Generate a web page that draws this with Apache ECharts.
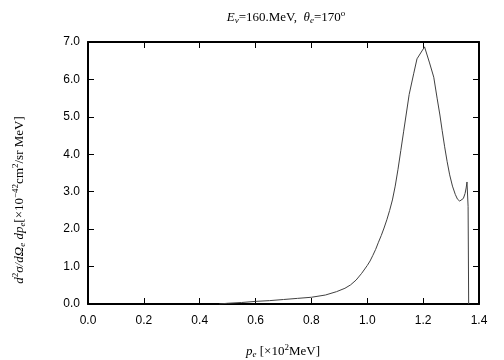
<!DOCTYPE html>
<html><head><meta charset="utf-8">
<script src="https://cdn.jsdelivr.net/npm/echarts@6/dist/echarts.min.js"></script>
<style>html,body{margin:0;padding:0;background:#fff}#c{width:504px;height:360px}</style>
</head><body><div id="c"></div>
<script>
const pe = [0.47,0.50,0.55,0.60,0.65,0.70,0.75,0.80,0.85,0.89,0.92,0.94,0.96,0.98,1.00,1.01,1.02,1.03,1.04,1.05,1.06,1.07,1.08,1.09,1.10,1.11,1.12,1.13,1.15,1.166,1.178,1.205,1.223,1.238,1.25,1.26,1.268,1.277,1.286,1.295,1.305,1.315,1.323,1.331,1.338,1.344,1.35,1.354,1.357,1.361,1.363];
const xsec = [0.0,0.02,0.04,0.07,0.09,0.12,0.15,0.18,0.24,0.33,0.42,0.51,0.64,0.82,1.03,1.15,1.30,1.46,1.65,1.83,2.03,2.25,2.5,2.78,3.15,3.6,4.1,4.6,5.6,6.15,6.55,6.87,6.44,6.06,5.5,5.05,4.64,4.2,3.8,3.45,3.15,2.93,2.8,2.75,2.76,2.82,2.95,3.1,3.26,2.6,0.0];
const xTicks = ['0.0','0.2','0.4','0.6','0.8','1.0','1.2','1.4'];
const yTicks = ['0.0','1.0','2.0','3.0','4.0','5.0','6.0','7.0'];

const chart = echarts.init(document.getElementById('c'));
const axLine = {show:true, onZero:false, lineStyle:{color:'#000', width:2}};
const tick = {show:true, inside:true, length:6, lineStyle:{color:'#000', width:1}};
const lblFont = {fontFamily:'Liberation Sans', fontSize:12, color:'#000'};
const serif = 'Liberation Serif';
const rich = {
  i:{fontFamily:serif, fontStyle:'italic', fontSize:13, fill:'#000'},
  n:{fontFamily:serif, fontSize:13, fill:'#000'},
  s:{fontFamily:serif, fontStyle:'italic', fontSize:9, fill:'#000', padding:[6,0,0,0]},
  p:{fontFamily:serif, fontSize:9, fill:'#000', padding:[0,0,8,0]}
};
chart.setOption({
  animation:false,
  grid:{left:88, right:25, top:42, bottom:56},
  xAxis:[
    {type:'value', min:0, max:1.4, interval:0.2, axisLine:axLine, axisTick:tick, splitLine:{show:false},
     axisLabel:Object.assign({margin:11, formatter:(v)=>xTicks[Math.round(v/0.2)]}, lblFont)},
    {type:'value', position:'top', min:0, max:1.4, interval:0.2, axisLine:axLine, axisTick:tick, splitLine:{show:false}, axisLabel:{show:false}}
  ],
  yAxis:[
    {type:'value', min:0, max:7, interval:1, axisLine:axLine, axisTick:tick, splitLine:{show:false},
     axisLabel:Object.assign({margin:8, formatter:(v)=>yTicks[Math.round(v)]}, lblFont)},
    {type:'value', position:'right', min:0, max:7, interval:1, axisLine:axLine, axisTick:tick, splitLine:{show:false}, axisLabel:{show:false}}
  ],
  series:[{type:'line', data:pe.map((x,i)=>[x,xsec[i]]), showSymbol:false, symbol:'none', smooth:false,
    lineStyle:{color:'#404040', width:1}}],
  graphic:[
    {type:'text', x:286, y:18, style:{
      text:'{i|E}{s|ν}{n|=160.MeV,  }{i|θ}{s|e}{n|=170}{p|o}',
      align:'center', verticalAlign:'middle', rich:rich}},
    {type:'text', x:283, y:352, style:{
      text:'{i|p}{s|e}{n| [×10}{p|2}{n|MeV]}',
      align:'center', verticalAlign:'middle', rich:rich}},
    {type:'text', x:20, y:200, rotation:Math.PI/2, style:{
      text:'{i|d}{p|2}{i|σ/dΩ}{s|e}{i| dp}{s|e}{n|[×10}{p|−42}{n|cm}{p|2}{n|/sr MeV]}',
      align:'center', verticalAlign:'middle', rich:rich}}
  ]
});
</script></body></html>
